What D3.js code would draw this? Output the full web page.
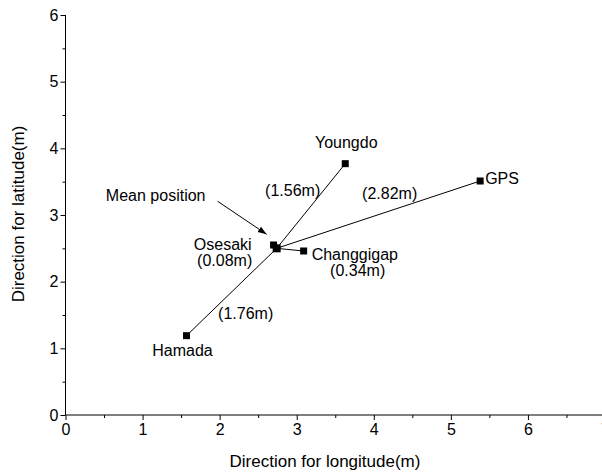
<!DOCTYPE html>
<html>
<head>
<meta charset="utf-8">
<script src="https://cdn.jsdelivr.net/npm/d3@7"></script>
<style>
  html, body { margin: 0; padding: 0; background: #fff; }
  svg { display: block; }
  text { font-family: "Liberation Sans", Arial, sans-serif; fill: #000; }
</style>
</head>
<body>
<svg id="chart" width="602" height="476"></svg>
<script>
// ---- Data ----
const stations = ["Youngdo", "GPS", "Osesaki", "Changgigap", "Hamada"];
const lonValues = [3.63, 5.38, 2.70, 3.09, 1.57];
const latValues = [3.77, 3.51, 2.55, 2.46, 1.19];
const distLabels = ["(1.56m)", "(2.82m)", "(0.08m)", "(0.34m)", "(1.76m)"];
const meanLon = 2.74;
const meanLat = 2.50;
const xTicks = [0, 1, 2, 3, 4, 5, 6, 7];
const yTicks = [0, 1, 2, 3, 4, 5, 6];
const xTitle = "Direction for longitude(m)";
const yTitle = "Direction for latitude(m)";
const meanLabel = "Mean position";

// ---- Layout (pixel offsets for annotations) ----
const nameOffsets = {
  "Youngdo":    {dx: 1,   dy: -21, anchor: "middle"},
  "GPS":        {dx: 5,   dy: -3,  anchor: "start"},
  "Osesaki":    {dx: -22, dy: -1,  anchor: "end"},
  "Changgigap": {dx: 8,   dy: 3,   anchor: "start"},
  "Hamada":     {dx: -4,  dy: 15,  anchor: "middle"}
};
// distance label positions, offsets from the mean point
const distOffsets = {
  "Youngdo":    {dx: 16,  dy: -58},
  "GPS":        {dx: 113, dy: -55},
  "Osesaki":    {dx: -52, dy: 12},
  "Changgigap": {dx: 81,  dy: 22},
  "Hamada":     {dx: -31, dy: 65}
};

const svg = d3.select("#chart");
const x = d3.scaleLinear().domain([0, 7]).range([65.5, 605]);
const y = d3.scaleLinear().domain([0, 6]).range([415, 15]);

const fontSize = 16;
const titleSize = 17;

// ---- Axes ----
const xAxis = d3.axisBottom(x).tickValues(xTicks).tickSize(5).tickPadding(4).tickFormat(d3.format("d"));
const gx = svg.append("g").attr("transform", `translate(0,${y(0)})`).call(xAxis);
gx.select(".domain").attr("d", `M${x(0)},0H602`);
const xMinor = d3.axisBottom(x).tickValues(d3.range(0.5, 7.5, 1)).tickSize(3).tickFormat("");
svg.append("g").attr("transform", `translate(0,${y(0)})`).call(xMinor).select(".domain").remove();

const yAxis = d3.axisLeft(y).tickValues(yTicks).tickSize(5).tickPadding(2).tickFormat(d3.format("d"));
const gy = svg.append("g").attr("transform", `translate(${x(0)},0)`).call(yAxis);
gy.select(".domain").attr("d", `M0,${y(0)}V${y(6)}`);
const yMinor = d3.axisLeft(y).tickValues(d3.range(0.5, 6, 1)).tickSize(3).tickFormat("");
svg.append("g").attr("transform", `translate(${x(0)},0)`).call(yMinor).select(".domain").remove();

svg.selectAll(".tick text").style("font-size", fontSize + "px").style("font-family", "'Liberation Sans', Arial, sans-serif");
svg.selectAll(".domain, .tick line").attr("stroke", "#000").attr("stroke-width", 1);

// titles
svg.append("text").attr("x", 325).attr("y", 467).attr("text-anchor", "middle")
  .style("font-size", titleSize + "px").text(xTitle);
svg.append("text").attr("transform", `translate(24,${214}) rotate(-90)`).attr("text-anchor", "middle")
  .style("font-size", titleSize + "px").text(yTitle);

// ---- Data marks ----
const pts = stations.map((s, i) => ({name: s, lon: lonValues[i], lat: latValues[i], dist: distLabels[i]}));
const mx = x(meanLon), my = y(meanLat);

svg.append("g").selectAll("line").data(pts).join("line")
  .attr("x1", mx).attr("y1", my)
  .attr("x2", d => x(d.lon)).attr("y2", d => y(d.lat))
  .attr("stroke", "#000").attr("stroke-width", 1);

const sq = 7;
svg.append("g").selectAll("rect").data(pts).join("rect")
  .attr("x", d => x(d.lon) - sq / 2).attr("y", d => y(d.lat) - sq / 2)
  .attr("width", sq).attr("height", sq).attr("fill", "#000");

const msq = 8;
svg.append("rect").attr("x", mx - msq / 2).attr("y", my - msq / 2)
  .attr("width", msq).attr("height", msq).attr("fill", "#000");

// station names
svg.append("g").selectAll("text").data(pts).join("text")
  .attr("x", d => x(d.lon) + nameOffsets[d.name].dx)
  .attr("y", d => y(d.lat) + nameOffsets[d.name].dy)
  .attr("dy", "0.35em")
  .attr("text-anchor", d => nameOffsets[d.name].anchor)
  .style("font-size", fontSize + "px")
  .text(d => d.name);

// distances
svg.append("g").selectAll("text").data(pts).join("text")
  .attr("x", d => mx + distOffsets[d.name].dx)
  .attr("y", d => my + distOffsets[d.name].dy)
  .attr("dy", "0.35em")
  .attr("text-anchor", "middle")
  .style("font-size", fontSize + "px")
  .text(d => d.dist);

// mean position label + arrow
svg.append("defs").append("marker")
  .attr("id", "arrow").attr("viewBox", "0 0 10 10").attr("refX", 10).attr("refY", 5)
  .attr("markerWidth", 9).attr("markerHeight", 9).attr("markerUnits", "userSpaceOnUse")
  .attr("orient", "auto")
  .append("path").attr("d", "M0,1.5L10,5L0,8.5Z").attr("fill", "#000");

svg.append("text").attr("x", mx - 121).attr("y", my - 53).attr("dy", "0.35em")
  .attr("text-anchor", "middle").style("font-size", fontSize + "px").text(meanLabel);
svg.append("line").attr("x1", mx - 59).attr("y1", my - 47).attr("x2", mx - 10).attr("y2", my - 14)
  .attr("stroke", "#000").attr("stroke-width", 1).attr("marker-end", "url(#arrow)");
</script>
</body>
</html>
